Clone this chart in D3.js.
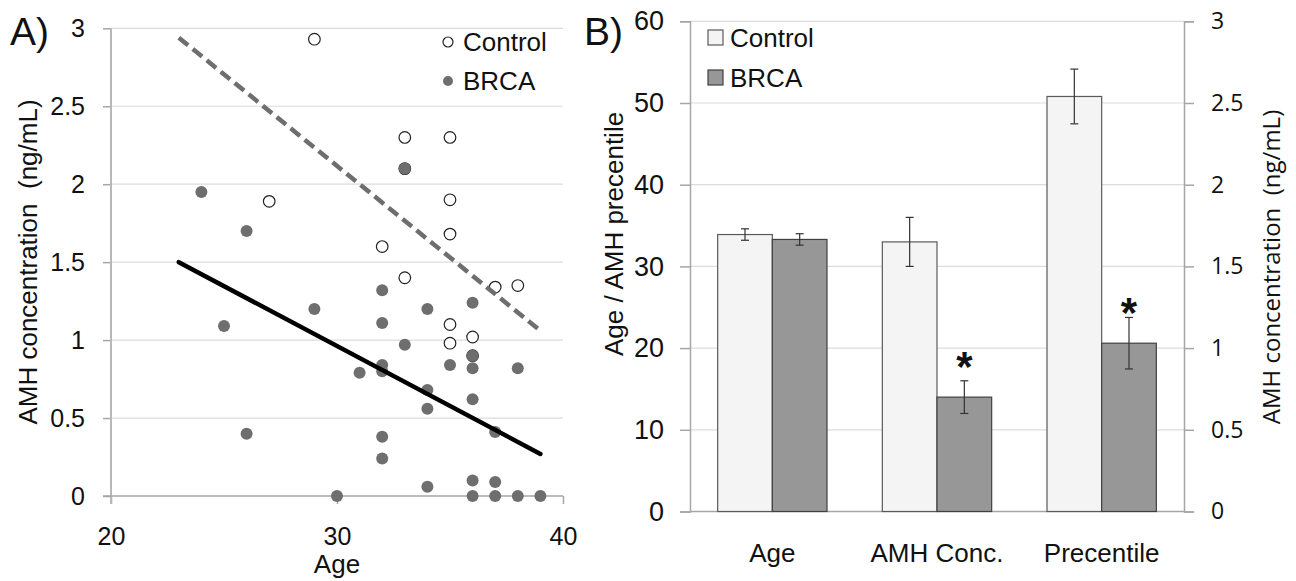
<!DOCTYPE html>
<html>
<head>
<meta charset="utf-8">
<script src="https://cdn.jsdelivr.net/npm/d3@7"></script>
<style>
  body { margin: 0; background: #fff; }
  text { font-family: "Liberation Sans", Arial, sans-serif; fill: #111; }
</style>
</head>
<body>
<svg id="chart"></svg>
<script>
// ---- panel A data: age vs AMH (ng/mL)
var controlAge = [29, 27, 33, 35, 33, 35, 35, 32, 33, 37, 38, 35, 35, 36, 36];
var controlAmh = [2.93, 1.89, 2.30, 2.30, 2.10, 1.90, 1.68, 1.60, 1.40, 1.34, 1.35, 1.10, 0.98, 1.02, 0.90];
var brcaAge = [24, 26, 25, 29, 26, 30, 33, 32, 32, 34, 36, 33, 36, 36, 35, 38, 31, 32, 32, 34, 34, 36, 37, 32, 32, 34, 36, 37, 36, 37, 38, 39];
var brcaAmh = [1.95, 1.70, 1.09, 1.20, 0.40, 0.00, 2.10, 1.32, 1.11, 1.20, 1.24, 0.97, 0.90, 0.82, 0.84, 0.82, 0.79, 0.84, 0.80, 0.68, 0.56, 0.62, 0.41, 0.38, 0.24, 0.06, 0.10, 0.09, 0.00, 0.00, 0.00, 0.00];
var fitAge = [23, 39];
var controlFit = [2.94, 1.06];
var brcaFit = [1.50, 0.27];
var ageTicks = [20, 30, 40];
var amhTicks = [0, 0.5, 1, 1.5, 2, 2.5, 3];

// ---- panel B data
var categories = ["Age", "AMH Conc.", "Precentile"];
var catAxis = ["left", "right", "left"];   // AMH Conc. is read on the ng/mL axis
var groups = ["Control", "BRCA"];
var controlMean = [33.9, 1.65, 50.8];
var controlErr = [0.7, 0.15, 3.35];
var brcaMean = [33.3, 0.70, 20.6];
var brcaErr = [0.7, 0.10, 3.15];
var significant = [false, true, true];
var leftTicks = [0, 10, 20, 30, 40, 50, 60];
var rightTicks = [0, 0.5, 1, 1.5, 2, 2.5, 3];

var W = 1296, H = 581;
var svg = d3.select("#chart").attr("width", W).attr("height", H);
svg.append("rect").attr("width", W).attr("height", H).attr("fill", "#fff");

var axisGray = "#a6a6a6", gridGray = "#dcdcdc", dotGray = "#6e6e6e";

// ================= panel A =================
var xA = d3.scaleLinear().domain([20, 40]).range([111, 563]);
var yA = d3.scaleLinear().domain([0, 3]).range([496, 28.3]);
var gA = svg.append("g");

gA.append("g").selectAll("line").data(amhTicks.slice(1)).enter().append("line")
  .attr("x1", xA(20)).attr("x2", xA(40))
  .attr("y1", d => yA(d)).attr("y2", d => yA(d))
  .attr("stroke", gridGray).attr("stroke-width", 1.2);

var yAxisA = gA.append("g").attr("transform", "translate(" + xA(20) + ",0)")
  .call(d3.axisLeft(yA).tickValues(amhTicks).tickSize(8).tickPadding(18).tickFormat(d3.format("~g")));
yAxisA.select(".domain").remove();
yAxisA.selectAll("line").attr("stroke", axisGray).attr("stroke-width", 1.5);
yAxisA.selectAll("text").style("font-size", "25px").style("font-family", "Liberation Sans, Arial").attr("fill", "#111");

var xAxisA = gA.append("g").attr("transform", "translate(0," + yA(0) + ")")
  .call(d3.axisBottom(xA).tickValues(ageTicks).tickSize(8));
xAxisA.select(".domain").remove();
xAxisA.selectAll("line").attr("stroke", axisGray).attr("stroke-width", 1.5);
xAxisA.selectAll("text").attr("dy", null).attr("y", 49)
  .style("font-size", "25px").style("font-family", "Liberation Sans, Arial").attr("fill", "#111");

gA.append("line").attr("x1", xA(20)).attr("x2", xA(20)).attr("y1", yA(0) + 8).attr("y2", yA(3))
  .attr("stroke", "#b8b8b8").attr("stroke-width", 2);
gA.append("line").attr("x1", xA(20) - 8).attr("x2", xA(40)).attr("y1", yA(0)).attr("y2", yA(0))
  .attr("stroke", axisGray).attr("stroke-width", 1.5);

var controlPts = controlAge.map((a, i) => ({ x: a, y: controlAmh[i] }));
var brcaPts = brcaAge.map((a, i) => ({ x: a, y: brcaAmh[i] }));

gA.selectAll(".ctrl").data(controlPts).enter().append("circle").attr("class", "ctrl")
  .attr("cx", d => xA(d.x)).attr("cy", d => yA(d.y)).attr("r", 5.8)
  .attr("fill", "#fff").attr("stroke", "#222").attr("stroke-width", 1.2);
gA.selectAll(".brca").data(brcaPts).enter().append("circle").attr("class", "brca")
  .attr("cx", d => xA(d.x)).attr("cy", d => yA(d.y)).attr("r", 6)
  .attr("fill", dotGray);

var fitLine = d3.line().x(d => xA(d[0])).y(d => yA(d[1]));
gA.append("path").datum(fitAge.map((a, i) => [a, controlFit[i]]))
  .attr("d", fitLine).attr("fill", "none").attr("stroke", "#6e6e6e")
  .attr("stroke-width", 4.5).attr("stroke-dasharray", "12 6");
gA.append("path").datum(fitAge.map((a, i) => [a, brcaFit[i]]))
  .attr("d", fitLine).attr("fill", "none").attr("stroke", "#000")
  .attr("stroke-width", 4.5).attr("stroke-linecap", "round");

// legend A
var legA = gA.append("g").attr("transform", "translate(448,42)");
legA.append("circle").attr("r", 5).attr("fill", "#fff").attr("stroke", "#222").attr("stroke-width", 1.2);
legA.append("text").attr("x", 15).attr("y", 9).style("font-size", "26px").text("Control");
legA.append("circle").attr("cy", 39).attr("r", 5).attr("fill", dotGray);
legA.append("text").attr("x", 15).attr("y", 48).style("font-size", "26px").text("BRCA");

gA.append("text").attr("x", 10).attr("y", 45).style("font-size", "39px").text("A)");
gA.append("text").attr("x", xA(30)).attr("y", 573).attr("text-anchor", "middle")
  .style("font-size", "26px").text("Age");
gA.append("text").attr("transform", "translate(37," + 262 + ") rotate(-90)")
  .attr("text-anchor", "middle").style("font-size", "26px").style("white-space", "pre")
  .text("AMH concentration\u00a0 (ng/mL)");

// ================= panel B =================
var x0 = d3.scaleBand().domain(categories).range([690, 1184]).paddingInner(0.336).paddingOuter(0.168);
var x1 = d3.scaleBand().domain(groups).range([0, x0.bandwidth()]);
var yL = d3.scaleLinear().domain([0, 60]).range([511.5, 21.3]);
var yR = d3.scaleLinear().domain([0, 3]).range([511.5, 21.3]);
var gB = svg.append("g");

gB.append("g").selectAll("line").data(leftTicks.slice(1)).enter().append("line")
  .attr("x1", 690).attr("x2", 1184)
  .attr("y1", d => yL(d)).attr("y2", d => yL(d))
  .attr("stroke", gridGray).attr("stroke-width", 1.2);

var lAxis = gB.append("g").attr("transform", "translate(690,0)")
  .call(d3.axisLeft(yL).tickValues(leftTicks).tickSize(10).tickPadding(16));
lAxis.select(".domain").attr("stroke", axisGray).attr("stroke-width", 1.5);
lAxis.selectAll("line").attr("stroke", axisGray).attr("stroke-width", 1.5);
lAxis.selectAll("text").style("font-size", "27px").style("font-family", "Liberation Sans, Arial").attr("fill", "#111");

var rAxis = gB.append("g").attr("transform", "translate(1184,0)")
  .call(d3.axisRight(yR).tickValues(rightTicks).tickSize(10).tickPadding(17).tickFormat(d3.format("~g")));
rAxis.select(".domain").attr("stroke", axisGray).attr("stroke-width", 1.5);
rAxis.selectAll("line").attr("stroke", axisGray).attr("stroke-width", 1.5);
rAxis.selectAll("text").style("font-size", "23px").style("font-family", "Open Sans, sans-serif").attr("fill", "#111");

gB.append("line").attr("x1", 690).attr("x2", 1184).attr("y1", yL(0)).attr("y2", yL(0))
  .attr("stroke", axisGray).attr("stroke-width", 1.5);

var barData = [];
categories.forEach(function (c, i) {
  var sc = catAxis[i] == "left" ? yL : yR;
  barData.push({ cat: c, grp: "Control", v: controlMean[i], e: controlErr[i], sc: sc, star: false });
  barData.push({ cat: c, grp: "BRCA", v: brcaMean[i], e: brcaErr[i], sc: sc, star: significant[i] });
});
var fills = { Control: "#f4f4f4", BRCA: "#979797" };
var strokes = { Control: "#5a5a5a", BRCA: "#404040" };

var bar = gB.selectAll(".bar").data(barData).enter().append("g").attr("class", "bar")
  .attr("transform", d => "translate(" + (x0(d.cat) + x1(d.grp)) + ",0)");
bar.append("rect")
  .attr("y", d => d.sc(d.v)).attr("width", x1.bandwidth())
  .attr("height", d => d.sc(0) - d.sc(d.v))
  .attr("fill", d => fills[d.grp]).attr("stroke", d => strokes[d.grp]).attr("stroke-width", 1.2);
var cx = x1.bandwidth() / 2;
bar.append("line").attr("x1", cx).attr("x2", cx)
  .attr("y1", d => d.sc(d.v + d.e)).attr("y2", d => d.sc(d.v - d.e))
  .attr("stroke", "#333").attr("stroke-width", 1.2);
bar.append("line").attr("x1", cx - 4).attr("x2", cx + 4)
  .attr("y1", d => d.sc(d.v + d.e)).attr("y2", d => d.sc(d.v + d.e))
  .attr("stroke", "#333").attr("stroke-width", 1.2);
bar.append("line").attr("x1", cx - 4).attr("x2", cx + 4)
  .attr("y1", d => d.sc(d.v - d.e)).attr("y2", d => d.sc(d.v - d.e))
  .attr("stroke", "#333").attr("stroke-width", 1.2);
bar.filter(d => d.star).append("text")
  .attr("x", cx).attr("y", d => d.sc(d.v) - 16).attr("text-anchor", "middle")
  .style("font-size", "42px").style("font-weight", "bold").text("*");

gB.selectAll(".catlab").data(categories).enter().append("text").attr("class", "catlab")
  .attr("x", d => x0(d) + x0.bandwidth() / 2).attr("y", 562).attr("text-anchor", "middle")
  .style("font-size", "26px").text(d => d);

// legend B
var legB = gB.selectAll(".legB").data(groups).enter().append("g").attr("class", "legB")
  .attr("transform", (d, i) => "translate(708," + (30 + i * 40) + ")");
legB.append("rect").attr("width", 15).attr("height", 15)
  .attr("fill", d => fills[d]).attr("stroke", d => strokes[d]).attr("stroke-width", 1.2);
legB.append("text").attr("x", 22).attr("y", 17).style("font-size", "26px").text(d => d);

gB.append("text").attr("x", 584).attr("y", 45).style("font-size", "39px").text("B)");
gB.append("text").attr("transform", "translate(623,234) rotate(-90)")
  .attr("text-anchor", "middle").style("font-size", "26px").text("Age / AMH precentile");
gB.append("text").attr("transform", "translate(1280,267) rotate(-90)")
  .attr("text-anchor", "middle").style("font-size", "24px").style("font-family", "Open Sans, sans-serif")
  .text("AMH concentration\u00a0 (ng/mL)");
</script>
</body>
</html>
